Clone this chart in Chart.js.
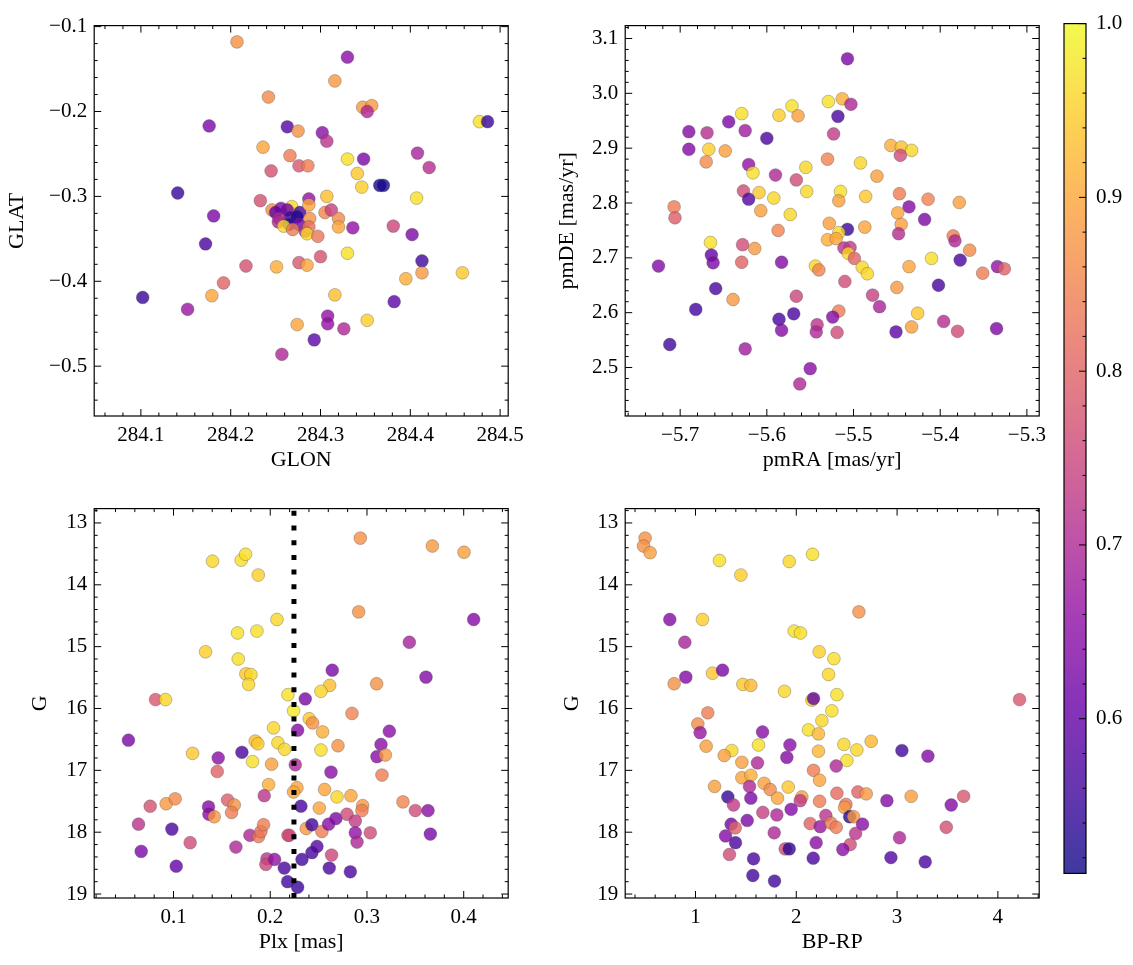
<!DOCTYPE html>
<html>
<head>
<meta charset="utf-8">
<script src="https://cdn.jsdelivr.net/npm/chart.js@4.4.1/dist/chart.umd.min.js"></script>
<style>
  html, body { margin: 0; padding: 0; background: #fff; }
  #fig { position: relative; width: 1133px; height: 965px; overflow: hidden; background: #fff; }
  canvas { position: absolute; }
</style>
</head>
<body>
<div id="fig"></div>
<script>
// ---- panel 1: GLON / GLAT
const glon = [284.207,284.330,284.316,284.242,284.347,284.357,284.352,284.176,284.263,284.275,284.302,284.307,284.477,284.486,
  284.236,284.266,284.276,284.286,284.245,284.330,284.348,284.408,284.421,284.341,284.346,284.366,284.370,284.141,284.407,
  284.307,284.233,284.287,284.181,284.246,284.256,284.268,284.263,284.250,284.277,284.287,284.305,284.312,284.320,284.381,
  284.266,284.274,284.254,284.288,284.253,284.265,284.276,284.259,284.269,284.283,284.287,284.285,284.297,284.320,284.336,
  284.402,284.172,284.330,284.413,284.300,284.276,284.285,284.251,284.217,284.413,284.458,284.395,284.192,284.179,284.102,
  284.152,284.316,284.382,284.308,284.308,284.274,284.326,284.352,284.293,284.257];
const glat = [-0.118,-0.136,-0.164,-0.183,-0.195,-0.193,-0.200,-0.217,-0.218,-0.223,-0.225,-0.235,-0.212,-0.212,
  -0.242,-0.252,-0.264,-0.264,-0.270,-0.256,-0.256,-0.249,-0.266,-0.273,-0.289,-0.287,-0.287,-0.296,-0.302,
  -0.300,-0.305,-0.303,-0.323,-0.316,-0.314,-0.312,-0.316,-0.319,-0.319,-0.310,-0.319,-0.316,-0.326,-0.335,
  -0.325,-0.324,-0.326,-0.326,-0.330,-0.333,-0.333,-0.335,-0.339,-0.341,-0.336,-0.344,-0.347,-0.336,-0.337,
  -0.345,-0.356,-0.367,-0.376,-0.371,-0.378,-0.381,-0.383,-0.382,-0.390,-0.390,-0.397,-0.402,-0.417,-0.419,
  -0.433,-0.416,-0.424,-0.441,-0.450,-0.451,-0.456,-0.446,-0.469,-0.486];
const probPos = [0.87,0.65,0.88,0.86,0.88,0.88,0.70,0.63,0.58,0.87,0.65,0.72,0.97,0.55,
  0.90,0.84,0.78,0.84,0.77,0.97,0.63,0.69,0.71,0.94,0.95,0.52,0.52,0.55,0.97,
  0.93,0.77,0.66,0.63,0.86,0.63,0.96,0.62,0.60,0.57,0.90,0.85,0.74,0.86,0.75,
  0.55,0.53,0.70,0.87,0.70,0.54,0.62,0.96,0.84,0.72,0.82,0.96,0.83,0.90,0.66,
  0.63,0.57,0.97,0.56,0.77,0.78,0.90,0.91,0.77,0.88,0.94,0.91,0.80,0.90,0.55,
  0.67,0.93,0.59,0.66,0.66,0.90,0.70,0.95,0.59,0.70];

// ---- panel 2: pmRA / pmDE
const pmra = [-5.507,-5.529,-5.513,-5.503,-5.518,-5.571,-5.586,-5.564,-5.629,-5.644,-5.690,-5.669,-5.625,-5.600,-5.523,
  -5.690,-5.667,-5.648,-5.457,-5.445,-5.433,-5.446,-5.670,-5.621,-5.616,-5.555,-5.530,-5.492,-5.473,-5.590,
  -5.566,-5.627,-5.609,-5.621,-5.592,-5.554,-5.515,-5.517,-5.486,-5.447,-5.436,-5.414,-5.378,-5.707,-5.706,
  -5.607,-5.573,-5.449,-5.418,-5.528,-5.587,-5.487,-5.445,-5.507,-5.517,-5.530,-5.520,-5.448,-5.385,-5.383,
  -5.366,-5.377,-5.665,-5.628,-5.614,-5.664,-5.662,-5.629,-5.583,-5.511,-5.504,-5.506,-5.499,-5.490,-5.484,
  -5.544,-5.540,-5.436,-5.410,-5.725,-5.351,-5.334,-5.326,-5.659,-5.639,-5.510,-5.566,-5.478,-5.450,-5.402,
  -5.682,-5.470,-5.517,-5.524,-5.586,-5.569,-5.583,-5.542,-5.543,-5.519,-5.426,-5.433,-5.451,-5.396,-5.380,
  -5.335,-5.712,-5.625,-5.550,-5.562];
const pmde = [3.063,2.985,2.990,2.980,2.958,2.977,2.960,2.959,2.963,2.948,2.930,2.928,2.932,2.918,2.926,
  2.898,2.898,2.895,2.905,2.902,2.896,2.887,2.875,2.870,2.855,2.865,2.880,2.873,2.849,2.851,
  2.842,2.822,2.819,2.807,2.809,2.821,2.821,2.804,2.812,2.817,2.793,2.807,2.801,2.793,2.773,
  2.786,2.779,2.782,2.770,2.763,2.750,2.756,2.761,2.752,2.746,2.733,2.735,2.744,2.740,2.731,
  2.714,2.696,2.728,2.724,2.717,2.705,2.691,2.692,2.692,2.718,2.719,2.708,2.699,2.683,2.671,
  2.685,2.678,2.684,2.699,2.685,2.672,2.684,2.680,2.644,2.624,2.657,2.630,2.632,2.646,2.650,
  2.606,2.611,2.603,2.592,2.588,2.598,2.568,2.578,2.565,2.564,2.599,2.574,2.565,2.584,2.566,
  2.571,2.542,2.534,2.498,2.470];
const probPm = [0.63,0.97,0.91,0.70,0.57,0.97,0.95,0.89,0.97,0.63,0.64,0.71,0.68,0.57,0.73,
  0.64,0.95,0.89,0.91,0.93,0.96,0.76,0.86,0.66,0.97,0.96,0.85,0.96,0.89,0.70,
  0.76,0.76,0.94,0.58,0.96,0.96,0.97,0.89,0.94,0.84,0.64,0.85,0.89,0.84,0.79,
  0.89,0.96,0.90,0.63,0.89,0.85,0.90,0.89,0.55,0.96,0.91,0.90,0.71,0.84,0.70,
  0.86,0.57,0.97,0.76,0.88,0.60,0.63,0.80,0.64,0.72,0.73,0.96,0.80,0.96,0.96,
  0.96,0.85,0.90,0.97,0.64,0.84,0.66,0.80,0.57,0.88,0.76,0.75,0.74,0.88,0.57,
  0.56,0.69,0.84,0.64,0.57,0.57,0.64,0.72,0.70,0.76,0.94,0.89,0.59,0.71,0.76,
  0.63,0.56,0.68,0.65,0.70];

// ---- panel 3: Plx / G
const plx = [0.2931,0.3676,0.4003,0.1403,0.1700,0.1745,0.1876,0.2914,0.4103,0.2069,0.1662,0.1862,0.3438,0.1331,
  0.1669,0.1748,0.1800,0.1776,0.2641,0.3610,0.3100,0.2614,0.2524,0.2183,0.2362,0.0814,0.0917,0.2241,0.2845,
  0.2403,0.2438,0.2541,0.2283,0.3231,0.2034,0.1845,0.1872,0.2079,0.2148,0.2524,0.2700,0.3145,0.3103,0.3190,
  0.0534,0.1197,0.1462,0.1707,0.1817,0.2014,0.2259,0.2628,0.1452,0.3155,0.1983,0.2276,0.2241,0.2562,0.2690,
  0.2834,0.1938,0.0924,0.1017,0.0759,0.1362,0.1366,0.1421,0.1559,0.1628,0.1600,0.2317,0.2507,0.2955,0.2948,
  0.3372,0.3500,0.3631,0.0638,0.0983,0.1172,0.0666,0.1028,0.1645,0.1790,0.1879,0.1903,0.1931,0.2183,0.2197,
  0.2372,0.2431,0.2534,0.2603,0.2679,0.2793,0.2879,0.2879,0.2897,0.3034,0.3655,0.1966,0.1955,0.2045,0.2145,
  0.2179,0.2283,0.2328,0.2431,0.2483,0.2634,0.2610,0.2828];
const gPlx = [13.245,13.373,13.474,13.618,13.602,13.506,13.842,14.438,14.561,14.561,14.779,14.748,14.929,15.083,
  15.200,15.440,15.451,15.611,15.381,15.493,15.600,15.627,15.722,15.776,15.845,15.856,15.856,16.037,16.080,
  16.165,16.234,16.378,16.351,16.367,16.314,16.527,16.570,16.554,16.660,16.671,16.602,16.581,16.778,16.752,
  16.512,16.725,16.800,16.709,16.858,16.901,16.911,17.029,17.018,17.076,17.230,17.280,17.350,17.310,17.430,
  17.410,17.410,17.540,17.460,17.580,17.590,17.710,17.750,17.480,17.560,17.680,17.580,17.610,17.570,17.650,
  17.510,17.650,17.650,17.870,17.950,18.170,18.310,18.550,18.240,18.050,18.070,17.990,17.880,18.050,18.050,
  17.940,17.880,17.990,17.870,17.780,17.710,17.820,18.010,18.160,18.010,18.030,18.430,18.520,18.440,18.580,
  18.800,18.890,18.440,18.330,18.230,18.370,18.580,18.640];
const probPlx = [0.87,0.88,0.89,0.96,0.97,0.97,0.95,0.87,0.64,0.96,0.97,0.97,0.69,0.95,
  0.97,0.94,0.96,0.96,0.63,0.64,0.87,0.93,0.96,0.97,0.63,0.78,0.96,0.98,0.85,
  0.94,0.87,0.91,0.64,0.65,0.96,0.93,0.94,0.96,0.96,0.97,0.87,0.65,0.65,0.88,
  0.63,0.94,0.65,0.57,0.97,0.89,0.70,0.65,0.80,0.84,0.91,0.90,0.90,0.90,0.96,
  0.90,0.72,0.88,0.86,0.77,0.64,0.65,0.88,0.79,0.87,0.84,0.57,0.90,0.88,0.84,
  0.85,0.76,0.65,0.72,0.57,0.76,0.63,0.60,0.70,0.70,0.83,0.83,0.84,0.80,0.75,
  0.88,0.56,0.84,0.65,0.63,0.76,0.73,0.66,0.70,0.76,0.63,0.72,0.75,0.66,0.57,
  0.56,0.55,0.56,0.57,0.58,0.75,0.57,0.57];
const plxRef = 0.2245;

// ---- panel 4: BP-RP / G
const bprp = [0.500,0.484,0.550,1.238,1.930,2.161,1.450,2.621,0.745,1.069,1.979,2.042,0.894,2.227,
  2.373,2.320,2.403,1.169,1.268,0.788,0.904,1.470,1.549,1.883,2.155,2.171,4.215,2.353,2.254,
  2.121,2.220,1.665,1.122,1.023,1.046,1.106,1.625,1.360,1.285,1.460,1.615,1.937,1.906,2.220,
  2.472,2.601,2.743,2.502,3.048,3.306,2.396,2.171,2.231,1.460,1.549,1.189,1.536,1.681,1.741,
  1.920,1.814,2.055,2.039,2.231,2.403,2.611,2.694,2.492,2.479,2.899,3.140,3.537,3.660,1.321,
  1.377,1.549,1.949,1.807,1.668,1.513,1.354,1.394,2.293,2.529,2.568,2.657,2.138,2.237,2.343,
  2.396,2.588,1.298,1.397,1.781,2.197,2.535,2.462,3.024,3.488,1.890,1.930,1.337,1.576,2.168,
  2.939,3.279,1.569,1.784];
const gCol = [13.245,13.373,13.480,13.607,13.623,13.506,13.842,14.438,14.561,14.561,14.748,14.779,14.929,15.083,
  15.195,15.450,15.776,15.429,15.381,15.600,15.493,15.610,15.627,15.722,15.866,15.840,15.856,16.037,16.197,
  16.346,16.410,16.380,16.070,16.250,16.390,16.610,16.590,16.680,16.760,16.870,16.880,16.590,16.790,16.690,
  16.580,16.670,16.530,16.840,16.680,16.770,16.930,17.000,17.160,17.120,17.080,17.260,17.260,17.210,17.310,
  17.270,17.450,17.430,17.490,17.500,17.370,17.350,17.380,17.550,17.600,17.490,17.420,17.560,17.420,17.430,
  17.560,17.450,17.630,17.720,17.680,17.810,17.870,17.930,17.730,17.750,17.750,17.870,17.860,17.910,17.850,
  17.920,18.020,18.060,18.170,18.010,18.170,18.200,18.280,18.090,17.920,18.270,18.270,18.360,18.430,18.420,
  18.410,18.480,18.700,18.790];
const probCol = [0.87,0.87,0.89,0.97,0.96,0.97,0.95,0.87,0.64,0.95,0.97,0.97,0.69,0.95,
  0.97,0.96,0.97,0.94,0.63,0.87,0.64,0.94,0.92,0.96,0.96,0.60,0.78,0.97,0.96,
  0.97,0.92,0.65,0.84,0.86,0.67,0.89,0.97,0.96,0.89,0.89,0.70,0.65,0.64,0.92,
  0.96,0.96,0.92,0.97,0.56,0.64,0.70,0.84,0.90,0.90,0.91,0.89,0.70,0.89,0.86,
  0.94,0.90,0.89,0.73,0.84,0.81,0.80,0.88,0.83,0.88,0.64,0.89,0.64,0.78,0.55,
  0.73,0.63,0.64,0.70,0.74,0.63,0.62,0.80,0.72,0.53,0.88,0.65,0.80,0.67,0.84,
  0.84,0.72,0.64,0.57,0.70,0.65,0.76,0.65,0.70,0.77,0.76,0.54,0.76,0.57,0.57,
  0.58,0.57,0.56,0.56];

// ---- tick labels
const glonTicks = [284.1, 284.2, 284.3, 284.4, 284.5];
const glatTicks = [-0.5, -0.4, -0.3, -0.2, -0.1];
const pmraTicks = [-5.7, -5.6, -5.5, -5.4, -5.3];
const pmdeTicks = [2.5, 2.6, 2.7, 2.8, 2.9, 3.0, 3.1];
const plxTicks = [0.1, 0.2, 0.3, 0.4];
const gTicks = [13, 14, 15, 16, 17, 18, 19];
const bprpTicks = [1, 2, 3, 4];
const cbarTicks = [0.6, 0.7, 0.8, 0.9, 1.0];
const cbarMin = 0.511, cbarMax = 1.0;

// plasma colour map
const plasmaStops = ["#0d0887","#41049d","#6a00a8","#8f0da4","#b12a90","#cc4778","#e16462","#f2844b","#fca636","#fcce25","#f0f921"];
const hexRgb = h => [1, 3, 5].map(i => parseInt(h.substr(i, 2), 16));
function plasma(t, alpha) {
  t = Math.max(0, Math.min(1, t));
  const s = t * 10, i = Math.min(9, Math.floor(s)), f = s - i;
  const a = hexRgb(plasmaStops[i]), b = hexRgb(plasmaStops[i + 1]);
  const c = a.map((v, k) => Math.round(v + (b[k] - v) * f));
  return `rgba(${c[0]},${c[1]},${c[2]},${alpha})`;
}
const probColor = p => plasma((p - cbarMin) / (cbarMax - cbarMin), 0.8);

Chart.defaults.font.family = "'Liberation Serif', 'Times New Roman', serif";
Chart.defaults.font.size = 21;
Chart.defaults.color = "#000";

const fmt = (v, d) => v.toFixed(d).replace("-", "\u2212");

// inward ticks on the chosen sides plus the frame
const framePlugin = {
  id: "frame",
  afterDatasetsDraw(chart, args, opts) {
    const { ctx, chartArea: a } = chart;
    ctx.save();
    ctx.strokeStyle = "#000";
    ctx.lineWidth = 1;
    const sides = opts.sides || { x: ["top", "bottom"], y: ["left", "right"] };
    ["x", "y"].forEach(id => {
      const scale = chart.scales[id];
      if (!scale || !scale.ticks.length || !sides[id].length) return;
      const majors = scale.ticks.map(t => t.value);
      const step = (majors[1] - majors[0]) / 5;
      const lo = Math.min(scale.min, scale.max), hi = Math.max(scale.min, scale.max);
      const minors = [];
      for (let v = majors[0] - step; v >= lo; v -= step) minors.push(v);
      for (let v = majors[0] + step; v <= hi + 1e-9; v += step) minors.push(v);
      const list = majors.map(v => [v, 7]).concat(
        minors.filter(v => !majors.some(m => Math.abs(m - v) < step / 10)).map(v => [v, 3.5]));
      list.forEach(([v, len]) => {
        const p = scale.getPixelForValue(v);
        ctx.beginPath();
        if (id === "x") {
          if (sides.x.includes("bottom")) { ctx.moveTo(p, a.bottom); ctx.lineTo(p, a.bottom - len); }
          if (sides.x.includes("top")) { ctx.moveTo(p, a.top); ctx.lineTo(p, a.top + len); }
        } else {
          if (sides.y.includes("left")) { ctx.moveTo(a.left, p); ctx.lineTo(a.left + len, p); }
          if (sides.y.includes("right")) { ctx.moveTo(a.right, p); ctx.lineTo(a.right - len, p); }
        }
        ctx.stroke();
      });
    });
    ctx.lineWidth = 1.2;
    ctx.strokeRect(a.left, a.top, a.right - a.left, a.bottom - a.top);
    ctx.restore();
  }
};

const fig = document.getElementById("fig");

function addCanvas(left, top, w, h) {
  const c = document.createElement("canvas");
  c.width = w; c.height = h;
  c.style.left = left + "px"; c.style.top = top + "px";
  c.style.width = w + "px"; c.style.height = h + "px";
  fig.appendChild(c);
  return c;
}

function axis(cfg, size, horizontal) {
  return {
    type: "linear",
    min: cfg.min, max: cfg.max, reverse: !!cfg.reverse,
    grid: { display: false, drawTicks: false },
    border: { display: false },
    title: { display: true, text: cfg.title, padding: 0, font: { size: 22 } },
    ticks: { padding: 7, autoSkip: false, maxRotation: 0, includeBounds: false,
      callback: v => fmt(v, cfg.dec) },
    afterBuildTicks: s => { s.ticks = cfg.ticks.map(v => ({ value: v })); },
    afterFit: s => { if (horizontal) s.height = size; else s.width = size; }
  };
}

// box = plot area in page pixels; yTitle = page x of the y title centre
function makePanel(box, yTitle, xs, ys, probs, xCfg, yCfg, extra) {
  const half = 13.2, xAxisH = 44 + half, padTop = 15, padRight = 30;
  const left = yTitle - half, top = box.top - padTop;
  const w = Math.round(box.right - left + padRight);
  const h = Math.round(box.bottom - top + xAxisH);
  const c = addCanvas(left, top, w, h);
  const datasets = [{
    data: xs.map((x, i) => ({ x, y: ys[i] })),
    pointRadius: 6.4,
    pointBackgroundColor: probs.map(probColor),
    pointBorderColor: "rgba(70,70,70,0.55)",
    pointBorderWidth: 0.6,
    order: 2
  }];
  if (extra) datasets.push(extra);
  new Chart(c, {
    type: "scatter",
    data: { datasets },
    options: {
      responsive: false, animation: false, devicePixelRatio: 1, events: [],
      layout: { padding: { top: padTop, right: w - (box.right - left), left: 0, bottom: h - (box.bottom - top) - xAxisH } },
      plugins: { legend: { display: false }, tooltip: { enabled: false }, frame: {} },
      scales: { x: axis(xCfg, xAxisH, true), y: axis(yCfg, box.left - left, false) }
    },
    plugins: [framePlugin]
  });
}

makePanel({ left: 94, top: 21, right: 508, bottom: 416 }, 17, glon, glat, probPos,
  { min: 284.048, max: 284.509, ticks: glonTicks, dec: 1, title: "GLON" },
  { min: -0.5587, max: -0.0988, ticks: glatTicks, dec: 1, title: "GLAT" });

makePanel({ left: 625, top: 21, right: 1039, bottom: 416 }, 567, pmra, pmde, probPm,
  { min: -5.7634, max: -5.2858, ticks: pmraTicks, dec: 1, title: "pmRA [mas/yr]" },
  { min: 2.4116, max: 3.1235, ticks: pmdeTicks, dec: 1, title: "pmDE [mas/yr]" });

const gMin = 12.768, gMax = 19.064;
makePanel({ left: 94, top: 504, right: 508, bottom: 898 }, 40, plx, gPlx, probPlx,
  { min: 0.018, max: 0.446, ticks: plxTicks, dec: 1, title: "Plx [mas]" },
  { min: gMin, max: gMax, reverse: true, ticks: gTicks, dec: 0, title: "G" },
  { data: [{ x: plxRef, y: gMax }, { x: plxRef, y: gMin }], showLine: true, pointRadius: 0,
    borderColor: "#000", borderWidth: 5, borderDash: [5, 9.7], borderCapStyle: "butt", order: 1 });

makePanel({ left: 625, top: 504, right: 1039, bottom: 898 }, 572, bprp, gCol, probCol,
  { min: 0.3026, max: 4.41, ticks: bprpTicks, dec: 0, title: "BP-RP" },
  { min: gMin, max: gMax, reverse: true, ticks: gTicks, dec: 0, title: "G" });

// colour bar
const gradPlugin = {
  id: "grad",
  beforeDatasetsDraw(chart) {
    const { ctx, chartArea: a } = chart;
    const g = ctx.createLinearGradient(0, a.bottom, 0, a.top);
    for (let i = 0; i <= 40; i++) g.addColorStop(i / 40, plasma(i / 40, 0.8));
    ctx.save();
    ctx.fillStyle = g;
    ctx.fillRect(a.left, a.top, a.right - a.left, a.bottom - a.top);
    ctx.restore();
  }
};
(function () {
  const bar = { left: 1064, top: 16, right: 1086, bottom: 881 };
  const left = bar.left - 5, top = bar.top - 15, w = 1133 - left, h = bar.bottom + 15 - top;
  const c = addCanvas(left, top, w, h);
  new Chart(c, {
    type: "scatter",
    data: { datasets: [{ data: [] }] },
    options: {
      responsive: false, animation: false, devicePixelRatio: 1, events: [],
      layout: { padding: { top: 15, bottom: 15, left: 5, right: 0 } },
      plugins: { legend: { display: false }, tooltip: { enabled: false },
        frame: { sides: { x: [], y: ["right"] } } },
      scales: {
        x: { display: false, min: 0, max: 1 },
        y: {
          position: "right", min: cbarMin, max: cbarMax,
          grid: { display: false, drawTicks: false }, border: { display: false },
          ticks: { padding: 10, autoSkip: false, includeBounds: false, callback: v => fmt(v, 1) },
          afterBuildTicks: s => { s.ticks = cbarTicks.map(v => ({ value: v })); },
          afterFit: s => { s.width = w - 5 - (bar.right - bar.left); }
        }
      }
    },
    plugins: [gradPlugin, framePlugin]
  });
})();
</script>
</body>
</html>
